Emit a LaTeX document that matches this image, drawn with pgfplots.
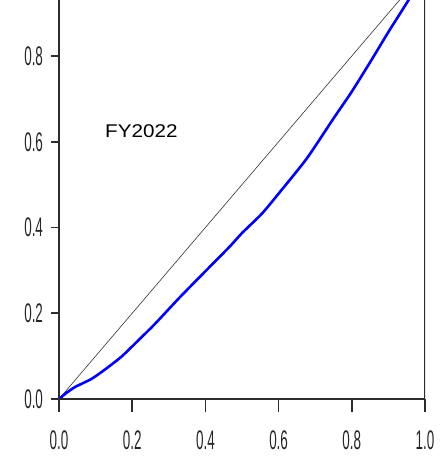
\documentclass[border=0pt]{standalone}
\usepackage{fontspec}
\usepackage{pgfplots}
\pgfplotsset{compat=1.18}

% narrow sans for the tick numbers, plain sans for the year tag
\newfontfamily\tickfont[FakeStretch=0.5]{Liberation Sans}
\newfontfamily\tagfont[FakeStretch=1.12]{Liberation Sans}

\definecolor{axisgray}{RGB}{45,45,45}

\pgfplotsset{
  lorenzframe/.style={
    at={(0,0)}, anchor=south west,
    scale only axis,
    width=366bp, height=399bp,
    xmin=0, xmax=1, ymin=0, ymax=0.9306,
    tick align=outside,
    axis line style={axisgray, line width=1.6bp},
    every tick/.style={axisgray, line width=1.6bp},
    /pgf/number format/.cd, fixed, fixed zerofill, precision=1, assume math mode=true,
    /pgfplots/.cd,
    tick label style={font=\tickfont\fontsize{27}{28}\selectfont, text=black!85},
  },
}

\begin{document}
\begin{tikzpicture}
% horizontal axis with its longer ticks
\begin{axis}[
  lorenzframe,
  axis x line*=bottom, axis y line=none,
  major tick length=13bp,
  xtick={0,0.2,0.4,0.6,0.8,1.0},
  xticklabel style={yshift=-15bp},
]
\addplot[draw=none] coordinates {(0,0) (1,0.9)};
\end{axis}
% vertical axis, curves and tag
\begin{axis}[
  lorenzframe,
  axis y line*=left, axis x line=none,
  major tick length=7.5bp,
  ytick={0,0.2,0.4,0.6,0.8},
  yticklabel style={xshift=-5bp},
  clip=true,
]
% line of equality
\addplot[black!80, line width=0.6bp] coordinates {(0,0) (1,1)};
% Lorenz curve
\addplot[blue, line width=2.6bp, line join=round, smooth, tension=0.4] coordinates {
  (0,0) (0.02,0.014) (0.044,0.028) (0.089,0.047) (0.126,0.069)
  (0.171,0.099) (0.217,0.137) (0.262,0.175) (0.331,0.238)
  (0.4,0.298) (0.467,0.356) (0.5,0.387) (0.554,0.432) (0.6,0.479)
  (0.677,0.561) (0.749,0.653) (0.8,0.717) (0.854,0.791)
  (0.9,0.856) (0.956,0.932) (1,1)
};
\node[anchor=base west, inner sep=0pt, font=\tagfont\fontsize{18.5}{20}\selectfont]
  at (axis cs:0.1257,0.609) {FY2022};
% right-hand frame line
\draw[axisgray, line width=1.6bp] (rel axis cs:1,0) -- (rel axis cs:1,1);
% bottom axis line
\draw[axisgray, line width=1.6bp] (rel axis cs:0,0) -- (rel axis cs:1,0);
\end{axis}
\pgfresetboundingbox
\path[use as bounding box] (-59bp,-68bp) rectangle (381bp,399bp);
\end{tikzpicture}
\end{document}
